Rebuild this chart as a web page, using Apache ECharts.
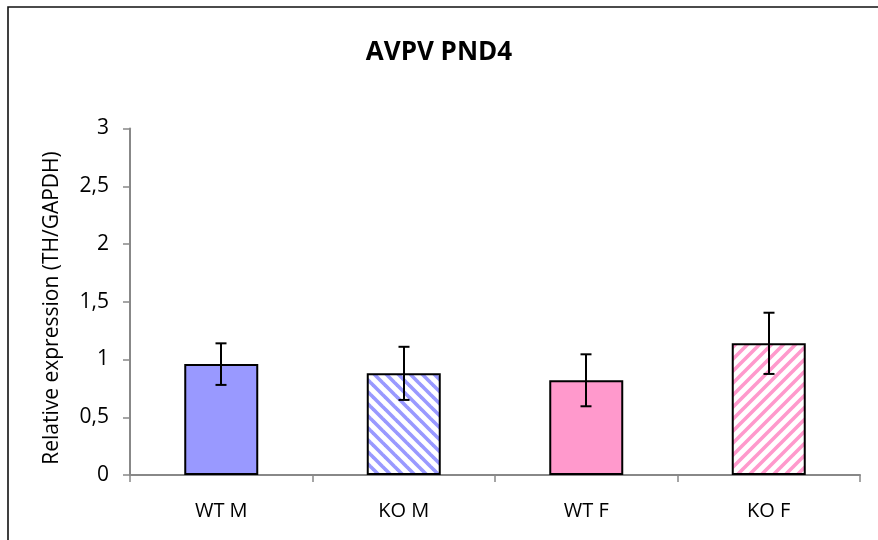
<!DOCTYPE html>
<html>
<head>
<meta charset="utf-8">
<script src="https://cdn.jsdelivr.net/npm/echarts@6/dist/echarts.min.js"></script>
<style>
  html, body { margin: 0; padding: 0; background: #fff; }
  #chart { width: 878px; height: 540px; }
</style>
</head>
<body>
<div id="chart"></div>
<script>
// Groups and relative TH/GAPDH expression (mean ± error)
const categories = ['WT M', 'KO M', 'WT F', 'KO F'];
const means = [0.96, 0.88, 0.82, 1.14];
const errors = [0.18, 0.23, 0.225, 0.265];
const yTicks = [0, 0.5, 1, 1.5, 2, 2.5, 3];

const BLUE = '#9999ff';
const PINK = '#ff99cc';

// Diagonal stripe fill; dir = 'back' draws "\" stripes, 'fwd' draws "/" stripes
function stripes(color, dir) {
  const s = 12;
  const c = document.createElement('canvas');
  c.width = s; c.height = s;
  const g = c.getContext('2d');
  g.fillStyle = '#fff';
  g.fillRect(0, 0, s, s);
  g.strokeStyle = color;
  g.lineWidth = 3.6;
  g.lineCap = 'square';
  for (let k = -1; k <= 1; k++) {
    g.beginPath();
    if (dir === 'back') {
      g.moveTo(k * s - 2, -2);
      g.lineTo(k * s + s + 2, s + 2);
    } else {
      g.moveTo(k * s - 2, s + 2);
      g.lineTo(k * s + s + 2, -2);
    }
    g.stroke();
  }
  return { image: c, repeat: 'repeat' };
}

const fills = [BLUE, stripes(BLUE, 'back'), PINK, stripes(PINK, 'fwd')];

const chart = echarts.init(document.getElementById('chart'), null, { renderer: 'canvas' });

const font = 'Open Sans, Liberation Sans, sans-serif';

chart.setOption({
  animation: false,
  backgroundColor: '#fff',
  title: {
    text: 'AVPV PND4',
    left: 434,
    textAlign: 'center',
    top: 35,
    textStyle: { fontFamily: font, fontSize: 26, fontWeight: 'bold', color: '#000' }
  },
  graphic: [
    {
      // outer chart frame
      type: 'rect',
      shape: { x: 8, y: 7, width: 1000, height: 800 },
      style: { fill: 'none', stroke: '#111', lineWidth: 1.6 },
      silent: true
    },
    {
      // vertical axis title
      type: 'text',
      x: 52, y: 308,
      rotation: Math.PI / 2,
      style: {
        text: 'Relative expression (TH/GAPDH)',
        fontFamily: font, fontSize: 21, fill: '#000',
        align: 'center', verticalAlign: 'middle'
      },
      silent: true
    }
  ],
  grid: { left: 130, right: 18, top: 128.5, bottom: 65, containLabel: false },
  xAxis: {
    type: 'category',
    data: categories,
    axisLine: { lineStyle: { color: '#888', width: 2 } },
    axisTick: { show: true, length: 7, lineStyle: { color: '#888', width: 1.5 } },
    axisLabel: { fontFamily: font, fontSize: 20, color: '#000', margin: 26 }
  },
  yAxis: {
    type: 'value',
    min: 0, max: 3, interval: 0.5,
    axisLine: { show: true, lineStyle: { color: '#888', width: 2 } },
    axisTick: { show: true, length: 7, lineStyle: { color: '#888', width: 1.5 } },
    splitLine: { show: false },
    axisLabel: {
      fontFamily: font, fontSize: 21, color: '#000', margin: 21,
      formatter: v => yTicks.includes(v) ? String(v).replace('.', ',') : ''
    }
  },
  series: [
    {
      type: 'bar',
      barWidth: 74,
      data: means.map((v, i) => ({
        value: v,
        itemStyle: { color: fills[i], borderColor: '#000', borderWidth: 2 }
      })),
      z: 2
    },
    {
      type: 'custom',
      z: 3,
      data: means.map((v, i) => [i, v - errors[i], v + errors[i]]),
      renderItem: (params, api) => {
        const lo = api.coord([api.value(0), api.value(1)]);
        const hi = api.coord([api.value(0), api.value(2)]);
        const x = Math.round(lo[0]);
        const cap = 5.5;
        const st = { stroke: '#000', lineWidth: 2 };
        return {
          type: 'group',
          children: [
            { type: 'line', shape: { x1: x, y1: lo[1], x2: x, y2: hi[1] }, style: st },
            { type: 'line', shape: { x1: x - cap, y1: hi[1], x2: x + cap, y2: hi[1] }, style: st },
            { type: 'line', shape: { x1: x - cap, y1: lo[1], x2: x + cap, y2: lo[1] }, style: st }
          ]
        };
      }
    }
  ]
});
</script>
</body>
</html>
